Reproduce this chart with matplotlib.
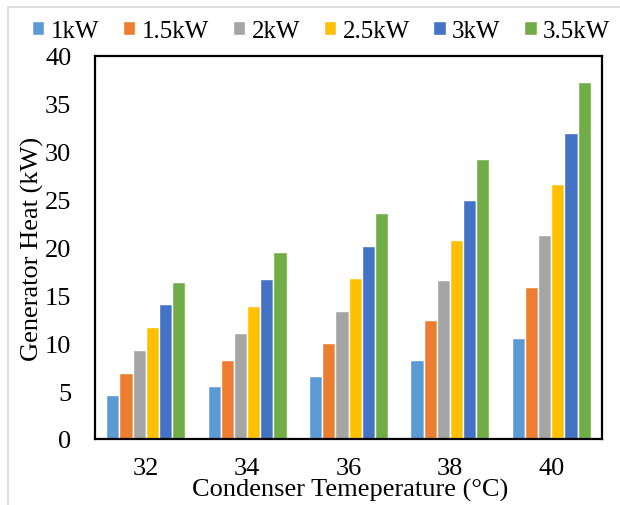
import numpy as np
import matplotlib
matplotlib.use('Agg')
from matplotlib import pyplot as plt
from matplotlib.patches import Rectangle

temps = ['32', '34', '36', '38', '40']
series = ['1kW', '1.5kW', '2kW', '2.5kW', '3kW', '3.5kW']
heat_1 = [4.6, 5.5, 6.6, 8.3, 10.6]
heat_15 = [6.9, 8.3, 10.0, 12.4, 15.9]
heat_2 = [9.3, 11.1, 13.4, 16.6, 21.3]
heat_25 = [11.7, 13.9, 16.8, 20.8, 26.6]
heat_3 = [14.1, 16.7, 20.2, 25.0, 32.0]
heat_35 = [16.4, 19.5, 23.6, 29.2, 37.3]
colors = ['#5B9BD5', '#ED7D31', '#A5A5A5', '#FFC000', '#4472C4', '#70AD47']

plt.rcParams['font.family'] = ['Liberation Serif', 'DejaVu Serif']

fig = plt.figure(figsize=(6.2, 5.06), dpi=100)
ax = fig.add_axes([95 / 620, 1 - 440 / 506, 507 / 620, 383 / 506])

x = np.arange(len(temps))
slot = 0.13
for i, (name, vals) in enumerate(zip(series, [heat_1, heat_15, heat_2, heat_25, heat_3, heat_35])):
    ax.bar(x + (i - 2.5) * slot, vals, width=slot, color=colors[i],
           edgecolor='white', linewidth=1.0, label=name)

ax.set_xlim(-0.5, len(temps) - 0.5)
ax.set_ylim(0, 40)
ax.set_yticks(np.arange(0, 41, 5))
ax.set_xticks(x)
ax.set_xticklabels(temps)
ax.tick_params(axis='both', length=0, labelsize=19)
ax.tick_params(axis='y', pad=17)
ax.tick_params(axis='x', pad=13)
for s in ax.spines.values():
    s.set_linewidth(1.6)
    s.set_color('black')

ax.set_ylabel('Generator Heat (kW)', fontsize=19)
ax.yaxis.set_label_coords(-0.100, 0.5)
ax.set_xlabel('Condenser Temeperature (°C)', fontsize=19)
ax.xaxis.set_label_coords(0.503, -0.102)

fig.legend(loc='center', bbox_to_anchor=(0.518, 0.937), ncol=6, frameon=False,
           fontsize=18, handlelength=0.5, handleheight=0.5, handletextpad=0.25,
           columnspacing=0.95, borderpad=0)

# light outer frame (pixel coords), cut off at right and bottom
fig.patches.append(Rectangle((8, -100), 700, 598, transform=None, fill=False,
                             edgecolor='#d9d9d9', linewidth=1.2))

fig.savefig('out.png', dpi=100)
